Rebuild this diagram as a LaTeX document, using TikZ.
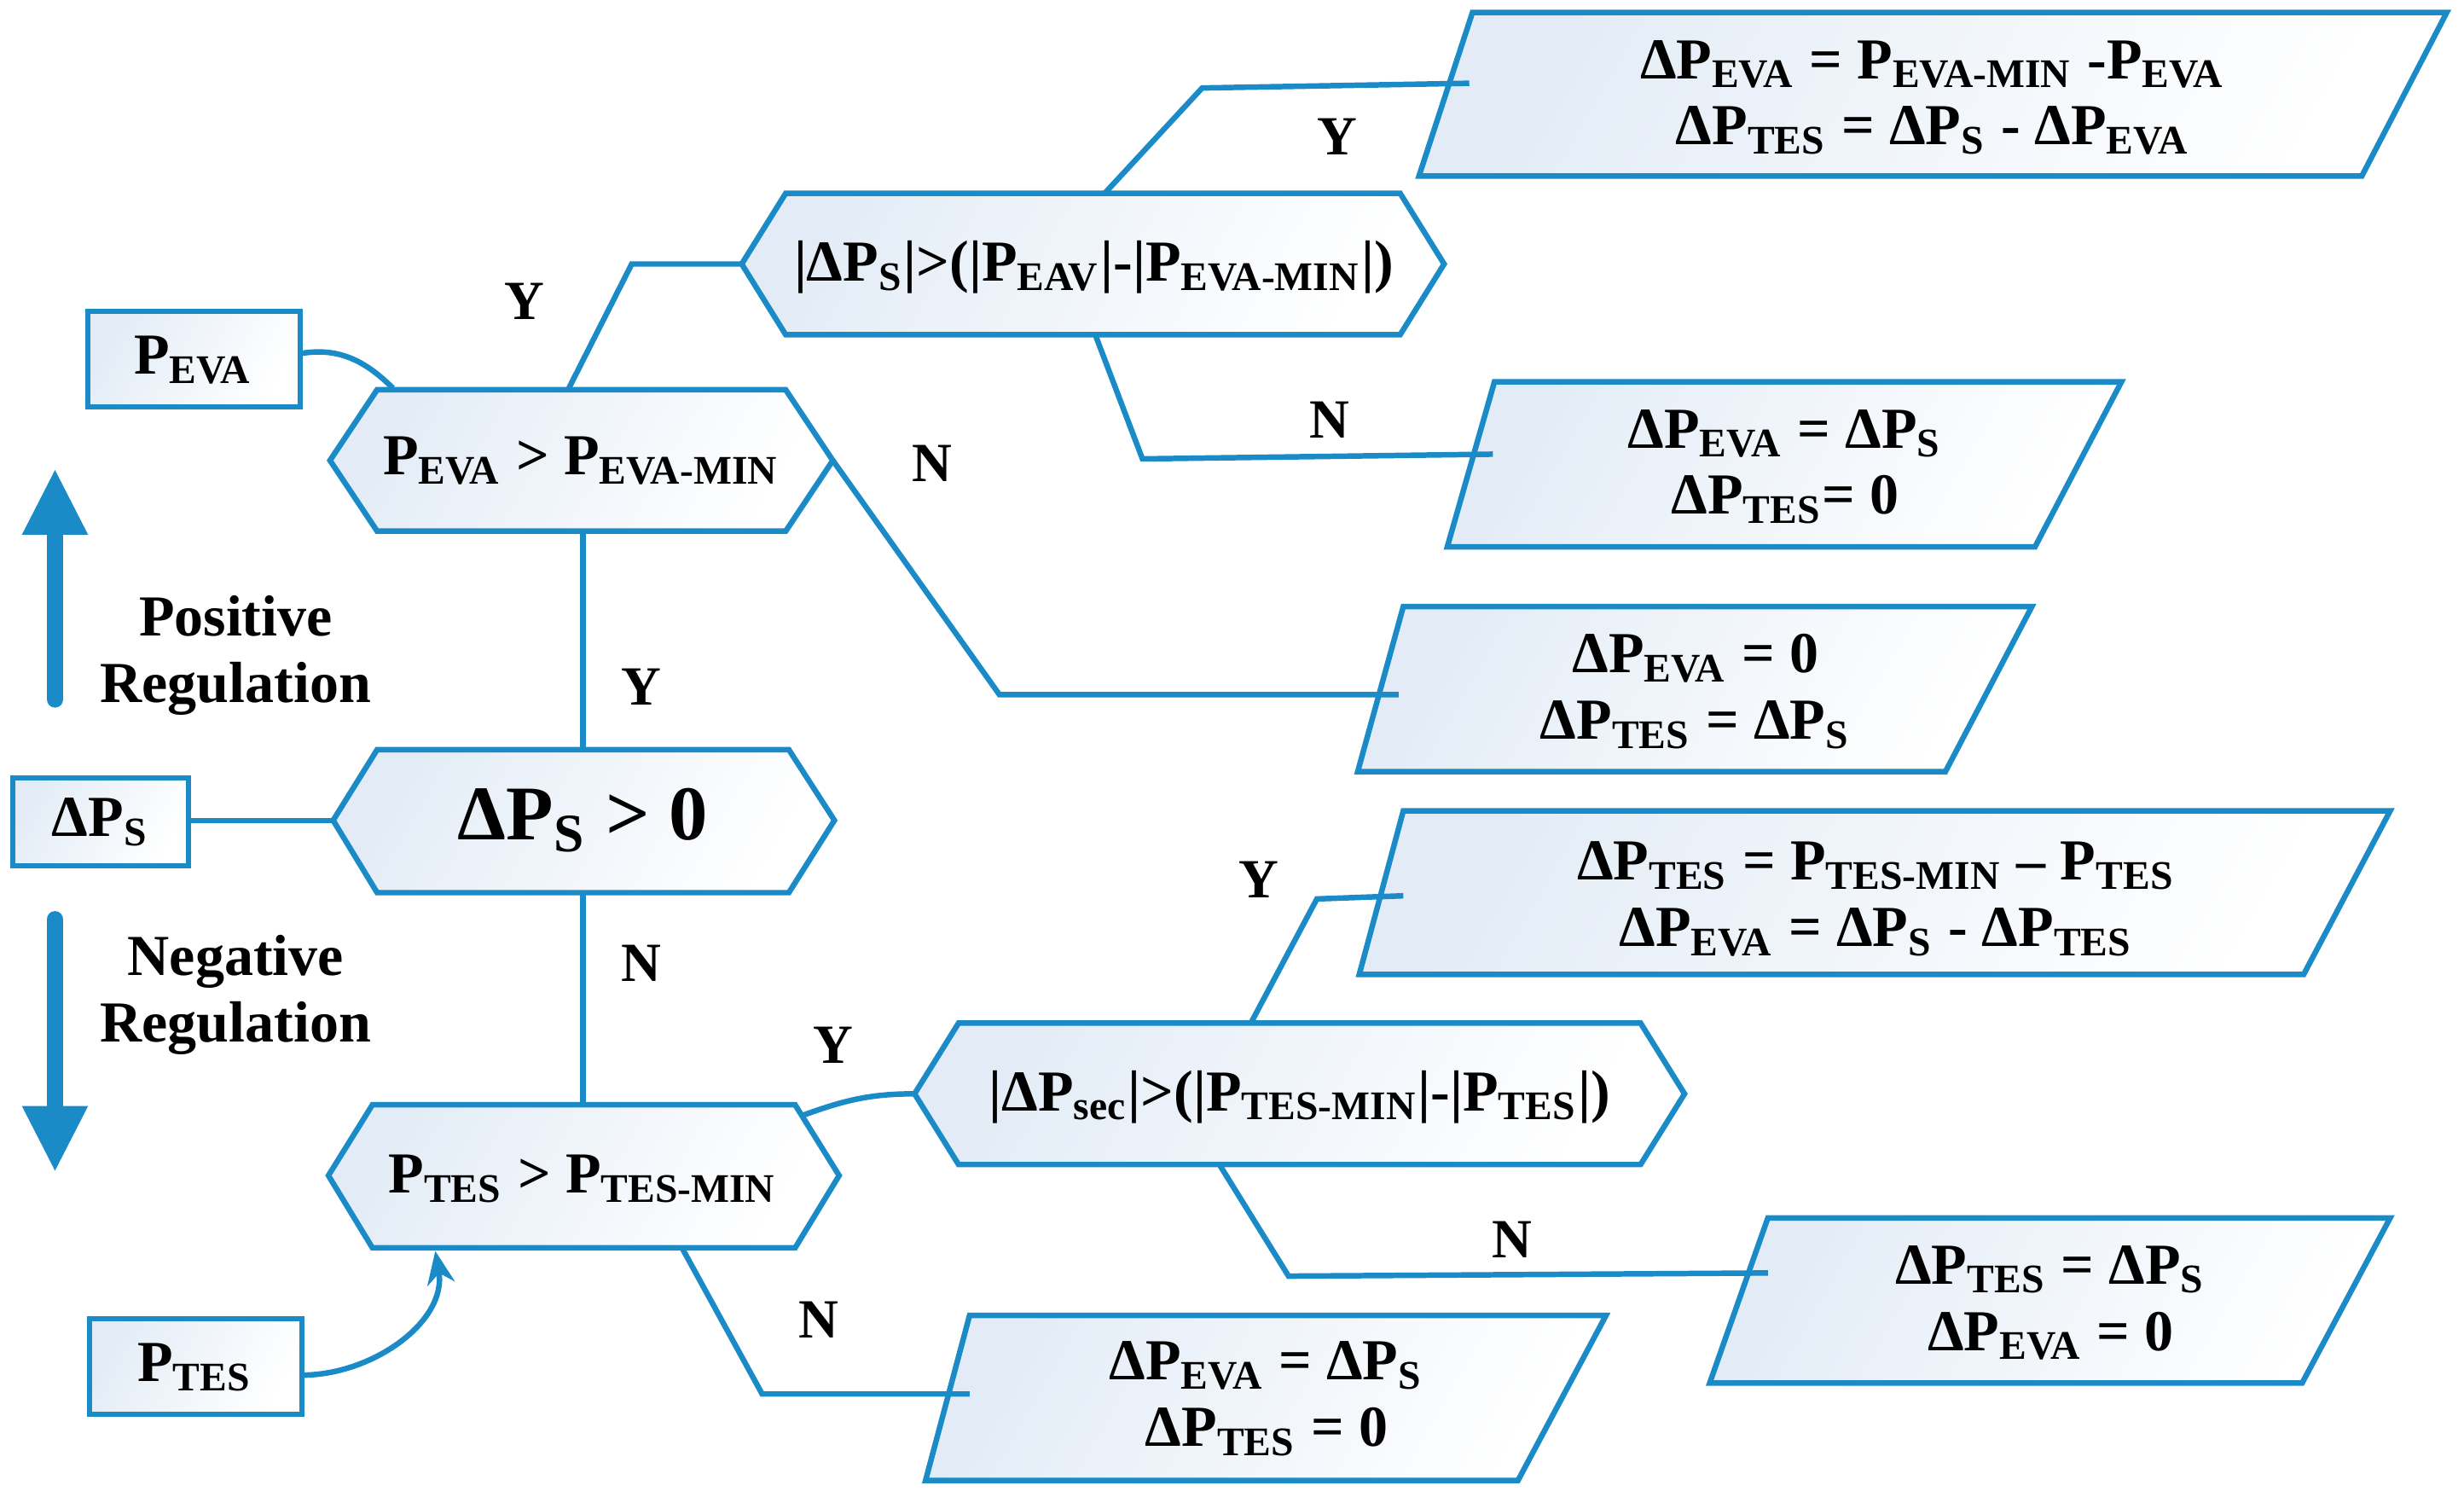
\documentclass[tikz,border=0pt]{standalone}
\usepackage{fontspec}
\setmainfont{Liberation Serif}
\usetikzlibrary{arrows.meta}
\newcommand\ms[1]{\textsubscript{#1}}
\definecolor{ln}{HTML}{1B8BC8}
\definecolor{fl}{HTML}{E3ECF6}
\tikzset{
 box/.style={draw=ln,line width=1pt,left color=fl,right color=white,shading angle=60},
 con/.style={draw=ln,line width=1pt},
 txt/.style={font=\bfseries\fontsize{10.5}{12}\selectfont,align=center,inner sep=0pt},
 lab/.style={font=\bfseries\fontsize{10}{12}\selectfont,inner sep=0pt}
}
\begin{document}
\begin{tikzpicture}[x=0.01cm,y=-0.01cm]
\useasboundingbox (0,0) rectangle (1568,952.5);
% rectangles
\draw[box] (56,198) rectangle (191,259); \node[txt] (rpeva) at (123,229) {P\ms{EVA}};
\draw[box] (8,495) rectangle (120,551); \node[txt] (rdps) at (64,523) {ΔP\ms{S}};
\draw[box] (57,839) rectangle (192,900); \node[txt] (rptes) at (124,870) {P\ms{TES}};
% hexagons
\draw[box] (210,293)--(240,248)--(500,248)--(530,293)--(500,338)--(240,338)--cycle;
\node[txt] (h1) at (370,293) {P\ms{EVA} > P\ms{EVA-MIN}};
\draw[box] (212,522)--(240,477)--(502,477)--(531,522)--(502,568)--(240,568)--cycle;
\node[txt,font=\bfseries\fontsize{14}{16}\selectfont] (h0) at (371,522) {ΔP\ms{S} > 0};
\draw[box] (209,748)--(237,703)--(506,703)--(534,748)--(506,794)--(237,794)--cycle;
\node[txt] (h2) at (371,750) {P\ms{TES} > P\ms{TES-MIN}};
\draw[box] (472,168)--(500,123)--(891,123)--(919,168)--(891,213)--(500,213)--cycle;
\node[txt] (h3) at (696,170) {|ΔP\ms{S}|>(|P\ms{EAV}|-|P\ms{EVA-MIN}|)};
\draw[box] (582,696)--(610,651)--(1044,651)--(1072,696)--(1044,741)--(610,741)--cycle;
\node[txt] (h4) at (827,698) {|ΔP\ms{sec}|>(|P\ms{TES-MIN}|-|P\ms{TES}|)};
% parallelograms
\draw[box] (903,112)--(937,8)--(1557,8)--(1503,112)--cycle;
\node[txt] (p1) at (1230,62) {ΔP\ms{EVA} = P\ms{EVA-MIN} -P\ms{EVA}\\ΔP\ms{TES} = ΔP\ms{S} - ΔP\ms{EVA}};
\draw[box] (921,348)--(951,243)--(1350,243)--(1295,348)--cycle;
\node[txt] (p2) at (1136,297) {ΔP\ms{EVA} = ΔP\ms{S}\\ΔP\ms{TES}= 0};
\draw[box] (864,491)--(893,386)--(1293,386)--(1238,491)--cycle;
\node[txt] (p3) at (1079,440) {ΔP\ms{EVA} = 0\\ΔP\ms{TES} = ΔP\ms{S}};
\draw[box] (865,620)--(893,516)--(1521,516)--(1466,620)--cycle;
\node[txt] (p4) at (1194,572) {ΔP\ms{TES} = P\ms{TES-MIN} -- P\ms{TES}\\ΔP\ms{EVA} = ΔP\ms{S} - ΔP\ms{TES}};
\draw[box] (1088,880)--(1125,775)--(1521,775)--(1465,880)--cycle;
\node[txt] (p5) at (1305,829) {ΔP\ms{TES} = ΔP\ms{S}\\ΔP\ms{EVA} = 0};
\draw[box] (589,942)--(617,837)--(1022,837)--(966,942)--cycle;
\node[txt] (p6) at (806,890) {ΔP\ms{EVA} = ΔP\ms{S}\\ΔP\ms{TES} = 0};
% connector coordinates
\coordinate (a1) at (191,225); \coordinate (a2) at (250,247);
\coordinate (b1) at (362,247); \coordinate (b2) at (402,168); \coordinate (b3) at (472,168);
\coordinate (c1) at (530,293); \coordinate (c2) at (636,442); \coordinate (c3) at (890,442);
\coordinate (d1) at (371,338); \coordinate (d2) at (371,477);
\coordinate (e1) at (120,522); \coordinate (e2) at (212,522);
\coordinate (f1) at (371,568); \coordinate (f2) at (371,703);
\coordinate (g1) at (703,123); \coordinate (g2) at (765,56); \coordinate (g3) at (935,53);
\coordinate (i1) at (697,213); \coordinate (i2) at (727,292); \coordinate (i3) at (950,289);
\coordinate (j1) at (510,710); \coordinate (j2) at (582,696);
\coordinate (k1) at (796,651); \coordinate (k2) at (838,572); \coordinate (k3) at (893,570);
\coordinate (l1) at (776,741); \coordinate (l2) at (820,812); \coordinate (l3) at (1125,810);
\coordinate (m1) at (434,794); \coordinate (m2) at (485,887); \coordinate (m3) at (617,887);
\coordinate (n1) at (192,875); \coordinate (n2) at (277,796);
\draw[con] (a1) to[out=10,in=135] (a2);
\draw[con] (b1)--(b2)--(b3);
\draw[con] (c1)--(c2)--(c3);
\draw[con] (d1)--(d2);
\draw[con] (e1)--(e2);
\draw[con] (f1)--(f2);
\draw[con] (g1)--(g2)--(g3);
\draw[con] (i1)--(i2)--(i3);
\draw[con] (j1) to[out=20,in=180] (j2);
\draw[con] (k1)--(k2)--(k3);
\draw[con] (l1)--(l2)--(l3);
\draw[con] (m1)--(m2)--(m3);
\draw[con,-{Stealth[length=6pt,width=5pt]}] (n1) to[out=0,in=-80] (n2);
% big arrows
\coordinate (u1) at (35,445); \coordinate (u2) at (35,298);
\coordinate (w1) at (35,585); \coordinate (w2) at (35,746);
\draw[ln,line width=3pt,line cap=round,-{Triangle[length=12pt,width=11pt]}] (u1)--(u2);
\draw[ln,line width=3pt,line cap=round,-{Triangle[length=12pt,width=11pt]}] (w1)--(w2);
% labels
\node[lab] at (334,192) {Y};
\node[lab] at (593,295) {N};
\node[lab] at (408,437) {Y};
\node[lab] at (408,613) {N};
\node[lab] at (851,87) {Y};
\node[lab] at (846,267) {N};
\node[lab] at (801,560) {Y};
\node[lab] at (530,665) {Y};
\node[lab] at (962,789) {N};
\node[lab] at (521,840) {N};
\node[txt,font=\bfseries\fontsize{10.5}{12}\selectfont] at (150,417) {Positive\\Regulation};
\node[txt,font=\bfseries\fontsize{10.5}{12}\selectfont] at (150,633) {Negative\\Regulation};
\end{tikzpicture}
\end{document}
